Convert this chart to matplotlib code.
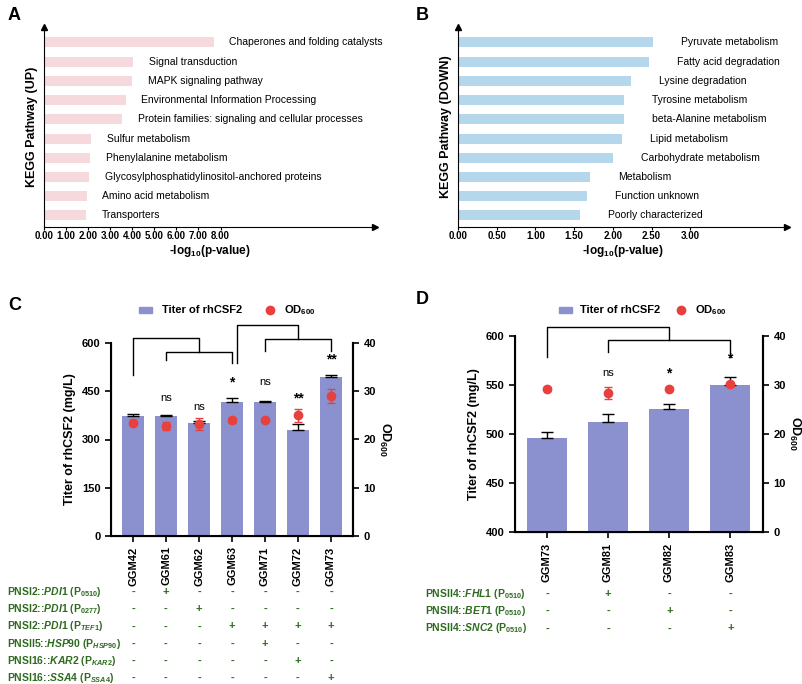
import matplotlib
matplotlib.use('Agg')
import matplotlib.pyplot as plt

plt.rcParams['font.family'] = ['Liberation Sans', 'DejaVu Sans']
plt.rcParams['mathtext.fontset'] = 'custom'
plt.rcParams['mathtext.rm'] = 'Liberation Sans:bold'
plt.rcParams['mathtext.it'] = 'Liberation Sans:italic:bold'
plt.rcParams['mathtext.bf'] = 'Liberation Sans:bold'

W, H = 802, 684

# ---- data ----
up_paths = ['Chaperones and folding catalysts', 'Signal transduction', 'MAPK signaling pathway',
            'Environmental Information Processing', 'Protein families: signaling and cellular processes',
            'Sulfur metabolism', 'Phenylalanine metabolism', 'Glycosylphosphatidylinositol-anchored proteins',
            'Amino acid metabolism', 'Transporters']
up_vals = [7.7, 4.05, 4.0, 3.7, 3.55, 2.15, 2.1, 2.05, 1.95, 1.9]

down_paths = ['Pyruvate metabolism', 'Fatty acid degradation', 'Lysine degradation', 'Tyrosine metabolism',
              'beta-Alanine metabolism', 'Lipid metabolism', 'Carbohydrate metabolism', 'Metabolism',
              'Function unknown', 'Poorly characterized']
down_vals = [2.52, 2.47, 2.24, 2.15, 2.15, 2.12, 2.0, 1.71, 1.67, 1.58]

c_strains = ['GGM42', 'GGM61', 'GGM62', 'GGM63', 'GGM71', 'GGM72', 'GGM73']
c_titer = [372, 372, 350, 418, 417, 330, 495]
c_titer_err = [8, 4, 6, 12, 4, 17, 6]
c_od = [23.5, 22.8, 23.2, 24.0, 24.0, 25.0, 29.0]
c_od_err = [0.5, 0.8, 1.2, 0.5, 0.3, 1.3, 1.5]
c_sig = ['', 'ns', 'ns', '*', 'ns', '**', '**']
c_sig_y = [0, 429, 401, 476, 479, 429, 550]
c_rows = [r'PNSI2::$\mathit{PDI1}$ (P$_{\mathit{0510}}$)',
          r'PNSI2::$\mathit{PDI1}$ (P$_{\mathit{0277}}$)',
          r'PNSI2::$\mathit{PDI1}$ (P$_{\mathit{TEF1}}$)',
          r'PNSII5::$\mathit{HSP90}$ (P$_{\mathit{HSP90}}$)',
          r'PNSI16::$\mathit{KAR2}$ (P$_{\mathit{KAR2}}$)',
          r'PNSI16::$\mathit{SSA4}$ (P$_{\mathit{SSA4}}$)']
c_marks = ['-+-----', '--+----', '---++++', '----+--', '-----+-', '------+']

d_strains = ['GGM73', 'GGM81', 'GGM82', 'GGM83']
d_titer = [496, 512, 526, 550]
d_titer_err = [6, 8, 5, 8]
d_od = [29.2, 28.3, 29.2, 30.2]
d_od_err = [0.3, 1.2, 0.3, 0.5]
d_sig = ['', 'ns', '*', '*']
d_sig_y = [0, 562, 562, 577]
d_rows = [r'PNSII4::$\mathit{FHL1}$ (P$_{\mathit{0510}}$)',
          r'PNSII4::$\mathit{BET1}$ (P$_{\mathit{0510}}$)',
          r'PNSII4::$\mathit{SNC2}$ (P$_{\mathit{0510}}$)']
d_marks = ['-+--', '--+-', '---+']

GREEN = '#2e6b1f'
BAR = '#8b91cf'
RED = '#e8403f'

fig = plt.figure(figsize=(W / 100, H / 100), dpi=100)


def px_axes(x0, y0, x1, y1):
    # pixel box (top-left origin) -> figure axes
    return fig.add_axes([x0 / W, 1 - y1 / H, (x1 - x0) / W, (y1 - y0) / H])


def ftext(x, y, s, **kw):
    fig.text(x / W, 1 - y / H, s, **kw)


def kegg(box, paths, vals, color, xmax, ticks, ylab, pad):
    ax = px_axes(*box)
    n = len(paths)
    ys = list(range(n))[::-1]
    ax.barh(ys, vals, height=0.52, color=color)
    for y, v, p in zip(ys, vals, paths):
        ax.text(v + pad, y, p, va='center', ha='left', fontsize=7.5)
    ax.set_xlim(0, xmax)
    ax.set_ylim(-0.6, n - 0.2)
    ax.set_xticks(ticks)
    ax.set_xticklabels(['%.2f' % t for t in ticks], fontsize=7, fontweight='bold')
    ax.tick_params(axis='x', length=2, pad=1)
    ax.set_yticks([])
    for s in ['top', 'right']:
        ax.spines[s].set_visible(False)
    ax.plot(1, 0, '>k', transform=ax.transAxes, clip_on=False, ms=5)
    ax.plot(0, 1, '^k', transform=ax.transAxes, clip_on=False, ms=5)
    ax.set_ylabel(ylab, fontsize=9, fontweight='bold')
    ax.set_xlabel(r'-log$_{10}$(p-value)', fontsize=8.5, fontweight='bold', labelpad=1)
    return ax


kegg((44, 27, 375, 227), up_paths, up_vals, '#f5d9dc', 15.0, [0, 1, 2, 3, 4, 5, 6, 7, 8],
     'KEGG Pathway (UP)', 0.7)
kegg((458, 27, 787, 227), down_paths, down_vals, '#b5d7ec', 4.25, [0, 0.5, 1, 1.5, 2, 2.5, 3],
     'KEGG Pathway (DOWN)', 0.36)
ftext(8, 20, 'A', fontsize=13, fontweight='bold')
ftext(416, 20, 'B', fontsize=13, fontweight='bold')


def bars(box, strains, titer, terr, od, oerr, ylim, yticks, sig, sig_y, brackets):
    ax = px_axes(*box)
    x = list(range(len(strains)))
    ax.bar(x, titer, width=0.65, color=BAR, yerr=[[0] * len(terr), terr], capsize=4,
           error_kw=dict(elinewidth=1, capthick=1, ecolor='black'))
    ax.set_xlim(-0.67 if len(x) > 4 else -0.52, len(x) - 1 + (0.67 if len(x) > 4 else 0.54))
    ax.set_ylim(*ylim)
    ax.set_yticks(yticks)
    ax.set_yticklabels([str(t) for t in yticks], fontsize=8, fontweight='bold')
    ax.set_xticks(x)
    ax.set_xticklabels(strains, rotation=90, fontsize=8, fontweight='bold')
    ax.tick_params(width=1.2, length=4)
    ax.spines['top'].set_visible(False)
    for s in ['left', 'bottom', 'right']:
        ax.spines[s].set_linewidth(1.5)
    ax.set_ylabel('Titer of rhCSF2 (mg/L)', fontsize=9, fontweight='bold')
    for i, (s, yy) in enumerate(zip(sig, sig_y)):
        if s:
            ax.text(i, yy, s, ha='center', va='center',
                    fontsize=8 if s == 'ns' else 10, fontweight='normal' if s == 'ns' else 'bold')
    for xs, ys in brackets:
        ax.plot(xs, ys, color='black', lw=1, clip_on=False)
    ax2 = ax.twinx()
    ax2.errorbar(x, od, yerr=oerr, fmt='o', color=RED, ms=6, capsize=3, elinewidth=1)
    ax2.set_ylim(0, 40)
    ax2.set_yticks([0, 10, 20, 30, 40])
    ax2.set_yticklabels(['0', '10', '20', '30', '40'], fontsize=8, fontweight='bold')
    ax2.tick_params(width=1.2, length=4)
    ax2.spines['top'].set_visible(False)
    ax2.spines['right'].set_linewidth(1.5)
    ax2.set_ylabel(r'OD$_{600}$', fontsize=9, fontweight='bold', rotation=270, labelpad=12)
    return ax


c_br = [([0, 0, 2, 2], [501, 616, 616, 572]),
        ([1, 1, 3, 3], [547, 572, 572, 538]),
        ([3.15, 3.15, 5, 5], [538, 656, 656, 612]),
        ([4, 4, 6, 6], [575, 612, 612, 575])]
bars((111, 343, 353, 536), c_strains, c_titer, c_titer_err, c_od, c_od_err,
     (0, 600), [0, 150, 300, 450, 600], c_sig, c_sig_y, c_br)

d_br = [([0, 0, 2, 2], [579, 609, 609, 596]),
        ([1, 1, 3, 3], [584, 596, 596, 579])]
bars((515, 336, 763, 532), d_strains, d_titer, d_titer_err, d_od, d_od_err,
     (400, 600), [400, 450, 500, 550, 600], d_sig, d_sig_y, d_br)

ftext(8, 305, 'C', fontsize=13, fontweight='bold', va='center')
ftext(416, 300, 'D', fontsize=13, fontweight='bold', va='center')

# legends
for px, tx, dx, ox in [(145, 162, 270, 284), (565, 580, 681, 695)]:
    fig.patches.append(plt.Rectangle(((px - 6) / W, 1 - 313 / H), 13 / W, 6 / H,
                                     color=BAR, transform=fig.transFigure))
    ftext(tx, 310, 'Titer of rhCSF2', fontsize=8, fontweight='bold', va='center')
    fig.lines.append(plt.Line2D([dx / W], [1 - 310 / H], marker='o', color=RED, ms=6,
                                transform=fig.transFigure))
    ftext(ox, 310, r'OD$_{600}$', fontsize=8, fontweight='bold', va='center')

# genotype tables
for rows, marks, x0, xs, y0 in [(c_rows, c_marks, 7, [133 + 33 * i for i in range(7)], 592),
                                (d_rows, d_marks, 425, [547 + 61.3 * i for i in range(4)], 594)]:
    for r, (lab, m) in enumerate(zip(rows, marks)):
        y = y0 + 17.2 * r
        ftext(x0, y, lab, fontsize=7.5, fontweight='bold', color=GREEN, va='center')
        for xx, ch in zip(xs, m):
            ftext(xx, y, ch, fontsize=8, fontweight='bold', color=GREEN, va='center', ha='center')

fig.savefig('out.png', dpi=100)
